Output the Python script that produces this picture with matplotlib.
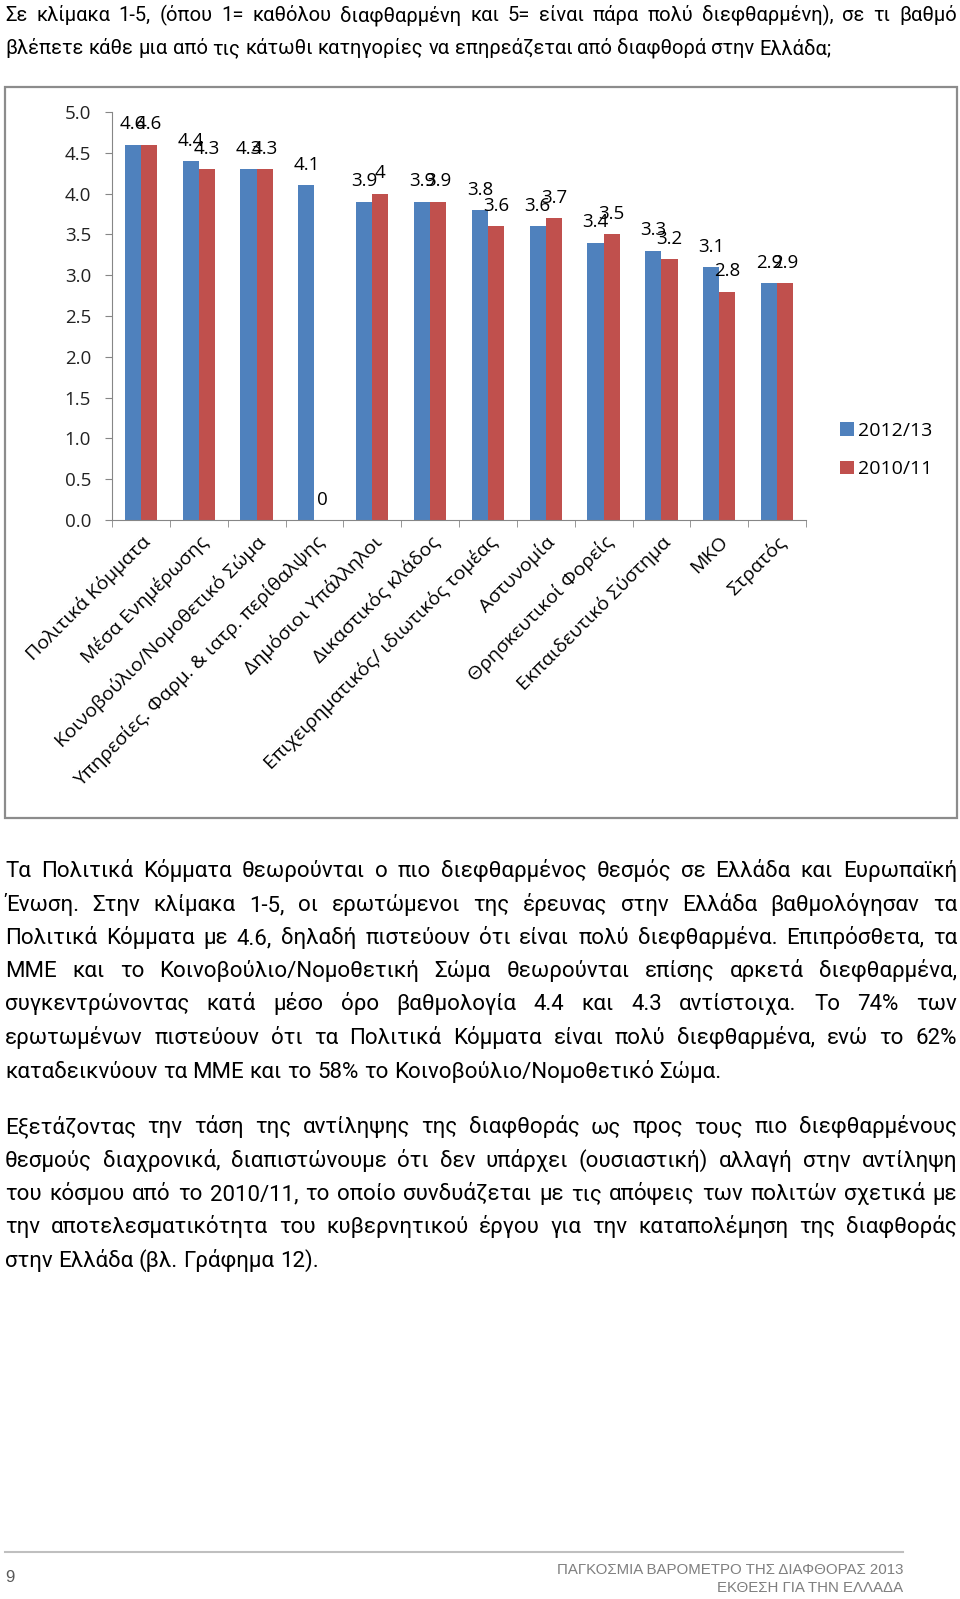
import matplotlib
matplotlib.use("Agg")
import matplotlib.pyplot as plt
import numpy as np
from matplotlib.patches import Rectangle, Patch
from matplotlib.lines import Line2D

W, H = 960, 1599

categories = ["Πολιτικά Κόμματα", "Μέσα Ενημέρωσης", "Κοινοβούλιο/Νομοθετικό Σώμα",
              "Υπηρεσίες. Φαρμ. & ιατρ. περίθαλψης", "Δημόσιοι Υπάλληλοι", "Δικαστικός κλάδος",
              "Επιχειρηματικός/ ιδιωτικός τομέας", "Αστυνομία", "Θρησκευτικοί Φορείς",
              "Εκπαιδευτικό Σύστημα", "ΜΚΟ", "Στρατός"]
score_2012 = [4.6, 4.4, 4.3, 4.1, 3.9, 3.9, 3.8, 3.6, 3.4, 3.3, 3.1, 2.9]
score_2010 = [4.6, 4.3, 4.3, 0, 4.0, 3.9, 3.6, 3.7, 3.5, 3.2, 2.8, 2.9]
series_names = ["2012/13", "2010/11"]
yticks = np.arange(0, 5.01, 0.5)

header_lines = [
    "Σε κλίμακα 1-5, (όπου 1= καθόλου διαφθαρμένη και 5= είναι πάρα πολύ διεφθαρμένη), σε τι βαθμό",
    "βλέπετε κάθε μια από τις κάτωθι κατηγορίες να επηρεάζεται από διαφθορά στην Ελλάδα;",
]
para1 = [
    "Τα Πολιτικά Κόμματα θεωρούνται ο πιο διεφθαρμένος θεσμός σε Ελλάδα και Ευρωπαϊκή",
    "Ένωση. Στην κλίμακα 1-5, οι ερωτώμενοι της έρευνας στην Ελλάδα βαθμολόγησαν τα",
    "Πολιτικά Κόμματα με 4.6, δηλαδή πιστεύουν ότι είναι πολύ διεφθαρμένα. Επιπρόσθετα, τα",
    "ΜΜΕ και το Κοινοβούλιο/Νομοθετική Σώμα θεωρούνται επίσης αρκετά διεφθαρμένα,",
    "συγκεντρώνοντας κατά μέσο όρο βαθμολογία 4.4 και 4.3 αντίστοιχα. Το 74% των",
    "ερωτωμένων πιστεύουν ότι τα Πολιτικά Κόμματα είναι πολύ διεφθαρμένα, ενώ το 62%",
    "καταδεικνύουν τα ΜΜΕ και το 58% το Κοινοβούλιο/Νομοθετικό Σώμα.",
]
para2 = [
    "Εξετάζοντας την τάση της αντίληψης της διαφθοράς ως προς τους πιο διεφθαρμένους",
    "θεσμούς διαχρονικά, διαπιστώνουμε ότι δεν υπάρχει (ουσιαστική) αλλαγή στην αντίληψη",
    "του κόσμου από το 2010/11, το οποίο συνδυάζεται με τις απόψεις των πολιτών σχετικά με",
    "την αποτελεσματικότητα του κυβερνητικού έργου για την καταπολέμηση της διαφθοράς",
    "στην Ελλάδα (βλ. Γράφημα 12).",
]
footer_lines = ["ΠΑΓΚΟΣΜΙΑ ΒΑΡΟΜΕΤΡΟ ΤΗΣ ΔΙΑΦΘΟΡΑΣ 2013", "ΕΚΘΕΣΗ ΓΙΑ ΤΗΝ ΕΛΛΑΔΑ"]
page_number = "9"

CHART_FONT = ["Open Sans", "DejaVu Sans"]
BODY_FONT = ["Roboto", "DejaVu Sans"]
FOOT_FONT = ["Liberation Sans", "DejaVu Sans"]
BLUE, RED = "#4F81BD", "#C0504D"

fig = plt.figure(figsize=(W / 100, H / 100), dpi=100)
renderer = fig.canvas.get_renderer()


def fx(px):
    return px / W


def fy(py):
    return 1 - py / H


def text_width(s, size, family):
    t = fig.text(0, 0, s, fontsize=size, family=family)
    w = t.get_window_extent(renderer).width
    t.remove()
    return w


def justified(line, y, size, family, x0=5, x1=957, last=False, color="black"):
    # lay a line out word by word so it fills x0..x1 like the justified original
    words = line.split(" ")
    widths = [text_width(w, size, family) for w in words]
    space = text_width("a a", size, family) - text_width("aa", size, family)
    if last or len(words) == 1:
        gap = space
    else:
        gap = (x1 - x0 - sum(widths)) / (len(words) - 1)
    x = x0
    for w, wd in zip(words, widths):
        fig.text(fx(x), fy(y), w, fontsize=size, family=family, va="baseline",
                 ha="left", color=color)
        x += wd + gap


# chart frame
fig.patches.append(Rectangle((fx(5), fy(818)), fx(957) - fx(5), fy(87) - fy(818),
                             transform=fig.transFigure, fill=False,
                             edgecolor="#8c8c8c", linewidth=1.6))

ax = fig.add_axes([fx(112), fy(520), (806 - 112) / W, (520 - 112) / H])
x = np.arange(len(categories))
bw = 0.28
b1 = ax.bar(x - bw / 2, score_2012, bw, color=BLUE)
b2 = ax.bar(x + bw / 2, score_2010, bw, color=RED)
for bars, vals in ((b1, score_2012), (b2, score_2010)):
    for rect, v in zip(bars, vals):
        ax.annotate(f"{v:g}", (rect.get_x() + rect.get_width() / 2, v),
                    xytext=(0, 11), textcoords="offset points", ha="center",
                    va="baseline", fontsize=13.5, family=CHART_FONT, color="black")

ax.set_xlim(-0.5, len(categories) - 0.5)
ax.set_ylim(0, 5)
ax.set_yticks(yticks)
ax.set_yticklabels([f"{v:.1f}" for v in yticks], fontsize=13.5, family=CHART_FONT,
                   color="#222222")
ax.set_xticks(x)
ax.set_xticklabels(categories, rotation=45, ha="right", rotation_mode="anchor",
                   fontsize=14, family=CHART_FONT)
ax.set_xticks(np.arange(-0.5, len(categories), 1), minor=True)
ax.tick_params(axis="x", which="major", length=0, pad=9)
ax.tick_params(axis="x", which="minor", length=5, color="#868686", direction="out")
ax.tick_params(axis="y", length=5, color="#868686", pad=10)
for s in ("top", "right"):
    ax.spines[s].set_visible(False)
for s in ("left", "bottom"):
    ax.spines[s].set_color("#868686")

handles = [Patch(facecolor=BLUE), Patch(facecolor=RED)]
fig.legend(handles, series_names, loc="upper left", bbox_to_anchor=(fx(840), fy(422)),
           bbox_transform=fig.transFigure, frameon=False, handlelength=0.7,
           handleheight=0.7, handletextpad=0.25, labelspacing=1.05, borderpad=0,
           borderaxespad=0, prop={"family": CHART_FONT, "size": 14})

# header question
justified(header_lines[0], 21, 14.5, BODY_FONT)
justified(header_lines[1], 54, 14.5, BODY_FONT, last=True)

# body paragraphs
for i, line in enumerate(para1):
    justified(line, [877, 911, 944, 977, 1010, 1044, 1078][i], 16, BODY_FONT,
              last=(i == len(para1) - 1))
for i, line in enumerate(para2):
    justified(line, [1133, 1167, 1200, 1233, 1267][i], 16, BODY_FONT,
              last=(i == len(para2) - 1))

# footer
fig.add_artist(Line2D([fx(5), fx(903)], [fy(1552), fy(1552)], transform=fig.transFigure,
                      color="#bfbfbf", linewidth=1.5))
fig.text(fx(5), fy(1578), page_number, fontsize=12, family=FOOT_FONT,
         color="#595959", va="center", ha="left")
fig.text(fx(903), fy(1570), footer_lines[0], fontsize=10.8, family=FOOT_FONT,
         color="#7f7f7f", va="center", ha="right")
fig.text(fx(903), fy(1588), footer_lines[1], fontsize=10.8, family=FOOT_FONT,
         color="#7f7f7f", va="center", ha="right")

fig.savefig("out.png", dpi=100)
